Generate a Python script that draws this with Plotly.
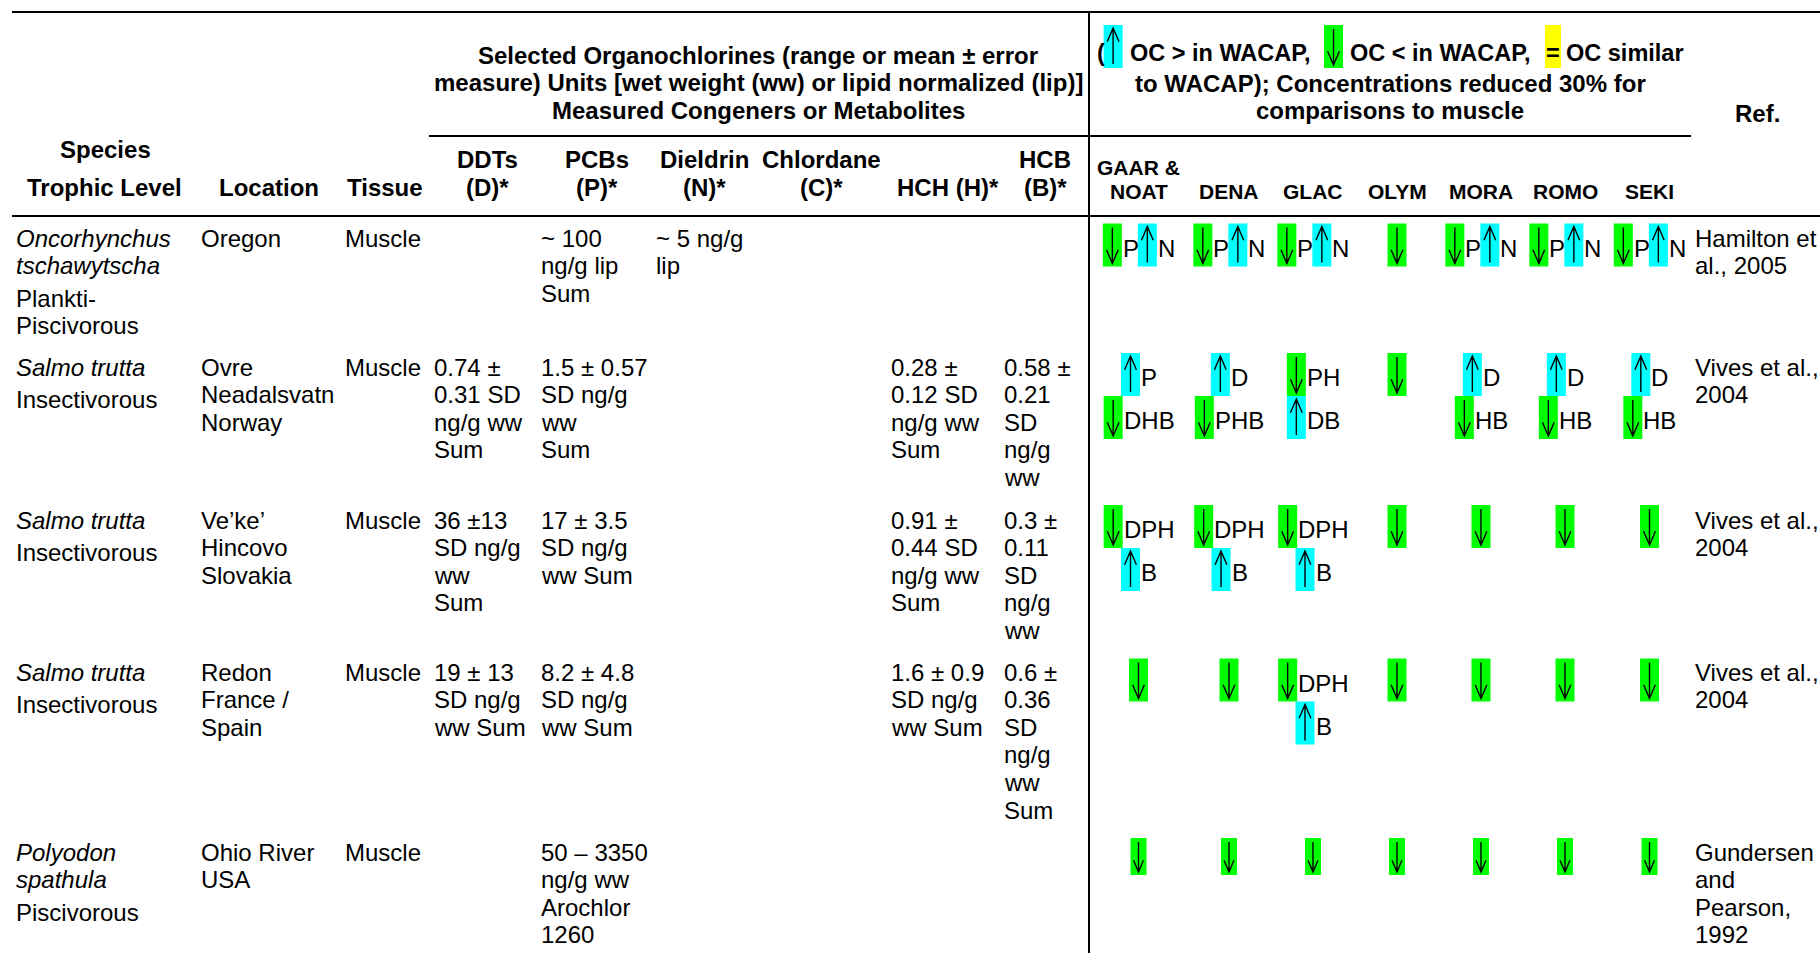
import re
import plotly.graph_objects as go

# ---------------- table content ----------------
species = [["Oncorhynchus", "tschawytscha"], ["Salmo trutta"], ["Salmo trutta"],
           ["Salmo trutta"], ["Polyodon", "spathula"]]
trophic = [["Plankti-", "Piscivorous"], ["Insectivorous"], ["Insectivorous"],
           ["Insectivorous"], ["Piscivorous"]]
locations = [["Oregon"], ["Ovre", "Neadalsvatn", "Norway"], ["Ve’ke’", "Hincovo", "Slovakia"],
             ["Redon", "France /", "Spain"], ["Ohio River", "USA"]]
tissues = [["Muscle"], ["Muscle"], ["Muscle"], ["Muscle"], ["Muscle"]]
ddts = [[], ["0.74 ±", "0.31 SD", "ng/g ww", "Sum"], ["36 ±13", "SD ng/g", "ww", "Sum"],
        ["19 ± 13", "SD ng/g", "ww Sum"], []]
pcbs = [["~ 100", "ng/g lip", "Sum"], ["1.5 ± 0.57", "SD ng/g", "ww", "Sum"],
        ["17 ± 3.5", "SD ng/g", "ww Sum"], ["8.2 ± 4.8", "SD ng/g", "ww Sum"],
        ["50 – 3350", "ng/g ww", "Arochlor", "1260"]]
dieldrin = [["~ 5 ng/g", "lip"], [], [], [], []]
chlordane = [[], [], [], [], []]
hch = [[], ["0.28 ±", "0.12 SD", "ng/g ww", "Sum"], ["0.91 ±", "0.44 SD", "ng/g ww", "Sum"],
       ["1.6 ± 0.9", "SD ng/g", "ww Sum"], []]
hcb = [[], ["0.58 ±", "0.21", "SD", "ng/g", "ww"], ["0.3 ±", "0.11", "SD", "ng/g", "ww"],
       ["0.6 ±", "0.36", "SD", "ng/g", "ww", "Sum"], []]
refs = [["Hamilton et", "al., 2005"], ["Vives et al.,", "2004"], ["Vives et al.,", "2004"],
        ["Vives et al.,", "2004"], ["Gundersen", "and", "Pearson,", "1992"]]

sites = [["GAAR &", "NOAT"], ["DENA"], ["GLAC"], ["OLYM"], ["MORA"], ["ROMO"], ["SEKI"]]
# comparison cells: "|" separates stacked lines; arrow followed by compound letters
comparisons = [
    ["↓P↑N", "↓P↑N", "↓P↑N", "↓", "↓P↑N", "↓P↑N", "↓P↑N"],
    ["↑P|↓DHB", "↑D|↓PHB", "↓PH|↑DB", "↓", "↑D|↓HB", "↑D|↓HB", "↑D|↓HB"],
    ["↓DPH|↑B", "↓DPH|↑B", "↓DPH|↑B", "↓", "↓", "↓", "↓"],
    ["↓", "↓", "↓DPH|↑B", "↓", "↓", "↓", "↓"],
    ["↓", "↓", "↓", "↓", "↓", "↓", "↓"],
]

oc_header = ["Selected Organochlorines (range or mean ± error",
             "measure) Units [wet weight (ww) or lipid normalized (lip)]",
             "Measured Congeners or Metabolites"]
oc_columns = [["DDTs", "(D)*"], ["PCBs", "(P)*"], ["Dieldrin", "(N)*"], ["Chlordane", "(C)*"],
              ["HCH (H)*"], ["HCB", "(B)*"]]
legend_line2 = "to WACAP); Concentrations reduced 30% for"
legend_line3 = "comparisons to muscle"

# ---------------- layout constants ----------------
W, H = 1820, 953
FONT = "Liberation Sans, Arial, Helvetica, sans-serif"
BODY = 24
HEAD = 24
LEG1 = 23.5
SITE = 21
LINE = 27.6
TROPHIC_GAP = 32.4
row_top = [238, 367, 520, 672, 852]
box_size = [(19, 43), (19, 43), (19, 43), (19, 43), (16, 37)]
box_off = [7, 7.5, 6.5, 8, 4.5]
x_species = 15
data_cols_x = [199.5, 344, 433, 540, 655, 770, 890, 1003]
x_ref = 1694
site_cx = [1138.5, 1229, 1313, 1397, 1481, 1565, 1649.5]
oc_head_cx = [487, 597, 704, 821, 948, 1045]
GREEN, CYAN, YELLOW = "#00FF00", "#00FFFF", "#FFFF00"
LW = {"P": 0.667, "N": 0.722, "D": 0.722, "H": 0.722, "B": 0.667}

annotations = []
shapes = []


def T(x, y, s, size=BODY, bold=False, anchor="left"):
    if bold:
        s = "<b>" + s + "</b>"
    annotations.append(dict(x=x, y=y, xref="x", yref="y", text=s, showarrow=False,
                            xanchor=anchor, yanchor="middle", borderpad=0,
                            font=dict(family=FONT, size=size, color="black")))


def hline(x0, x1, y, w=2):
    shapes.append(dict(type="line", x0=x0, x1=x1, y0=y, y1=y, xref="x", yref="y",
                       line=dict(color="black", width=w)))


def arrow_box(x0, cy, bw, bh, d):
    y0, y1 = cy - bh / 2, cy + bh / 2
    shapes.append(dict(type="rect", x0=x0, x1=x0 + bw, y0=y0, y1=y1, xref="x", yref="y",
                       fillcolor=GREEN if d == "↓" else CYAN, line=dict(width=0), layer="below"))
    cx = x0 + bw / 2
    hw, hh = bw * 0.31, bh * 0.32
    if d == "↓":
        p = (f"M {cx},{y0 + 4} L {cx},{y1 - 3} M {cx - hw},{y1 - 3 - hh} L {cx},{y1 - 3} "
             f"L {cx + hw},{y1 - 3 - hh}")
    else:
        p = (f"M {cx},{y1 - 4} L {cx},{y0 + 3} M {cx - hw},{y0 + 3 + hh} L {cx},{y0 + 3} "
             f"L {cx + hw},{y0 + 3 + hh}")
    shapes.append(dict(type="path", path=p, xref="x", yref="y",
                       line=dict(color="black", width=1.4)))


# ---------------- rules ----------------
hline(12, W, 12)
hline(429, 1691, 136)
hline(12, W, 216)
shapes.append(dict(type="line", x0=1089, x1=1089, y0=12, y1=H, xref="x", yref="y",
                   line=dict(color="black", width=2)))

# ---------------- header ----------------
annotations.append(dict(x=12 / W, y=1 + 14.5 / H, xref="paper", yref="paper",
                        text="<b>(continued)</b>", showarrow=False, xanchor="left",
                        yanchor="middle", borderpad=0,
                        font=dict(family=FONT, size=26, color="black")))
for i, s in enumerate(oc_header):
    T(758, 55 + i * LINE, s, HEAD, True, "center")
T(105, 149, "Species", HEAD, True, "center")
T(104, 187, "Trophic Level", HEAD, True, "center")
T(268.6, 187, "Location", HEAD, True, "center")
T(384.5, 187, "Tissue", HEAD, True, "center")
for cx, lines in zip(oc_head_cx, oc_columns):
    for i, s in enumerate(reversed(lines)):
        T(cx, 187 - i * LINE, s, HEAD, True, "center")
for cx, lines in zip(site_cx, sites):
    for i, s in enumerate(reversed(lines)):
        T(cx, 191 - i * 24, s, SITE, True, "center")
T(1757, 113, "Ref.", HEAD, True, "center")

# legend line 1
T(1096, 53, "(", LEG1, True)
arrow_box(1103.6, 46.5, 19, 43, "↑")
T(1129, 53, "OC > in WACAP,", LEG1, True)
arrow_box(1324, 46.5, 19, 43, "↓")
T(1349, 53, "OC < in WACAP,", LEG1, True)
shapes.append(dict(type="rect", x0=1545, x1=1561, y0=25, y1=68, xref="x", yref="y",
                   fillcolor=YELLOW, line=dict(width=0), layer="below"))
T(1553, 53, "=", LEG1, True, "center")
T(1565, 53, "OC similar", LEG1, True)
T(1390, 83, legend_line2, HEAD, True, "center")
T(1390, 110, legend_line3, HEAD, True, "center")

# ---------------- body ----------------
for r in range(len(species)):
    y0 = row_top[r]
    for i, s in enumerate(species[r]):
        T(x_species, y0 + i * LINE, "<i>" + s + "</i>")
    yt = y0 + (len(species[r]) - 1) * LINE + TROPHIC_GAP
    for i, s in enumerate(trophic[r]):
        T(x_species, yt + i * LINE, s)
    for cx, col in zip(data_cols_x, [locations, tissues, ddts, pcbs, dieldrin, chlordane, hch, hcb]):
        for i, s in enumerate(col[r]):
            T(cx, y0 + i * LINE, s)
    for i, s in enumerate(refs[r]):
        T(x_ref, y0 + i * LINE, s)
    bw, bh = box_size[r]
    for c, cell in enumerate(comparisons[r]):
        for k, line in enumerate(cell.split("|")):
            segs = re.findall(r"[↑↓][A-Z]*", line)
            width = sum(bw + BODY * sum(LW[ch] for ch in seg[1:]) for seg in segs)
            x = site_cx[c] - width / 2
            cy = y0 + box_off[r] + k * bh
            for seg in segs:
                arrow_box(x, cy, bw, bh, seg[0])
                x += bw
                if seg[1:]:
                    T(x, cy + 3, seg[1:])
                    x += BODY * sum(LW[ch] for ch in seg[1:])

fig = go.Figure(go.Scatter(x=[], y=[], mode="markers", hoverinfo="skip", showlegend=False))
fig.update_layout(
    width=W, height=H, margin=dict(l=0, r=0, t=0, b=0),
    paper_bgcolor="white", plot_bgcolor="white",
    xaxis=dict(range=[0, W], visible=False, fixedrange=True),
    yaxis=dict(range=[H, 0], visible=False, fixedrange=True),
    annotations=annotations, shapes=shapes, showlegend=False,
)
fig.write_html("out.html", config={"displayModeBar": False},
               post_script="document.body.style.margin='0';document.body.style.overflow='hidden';")
